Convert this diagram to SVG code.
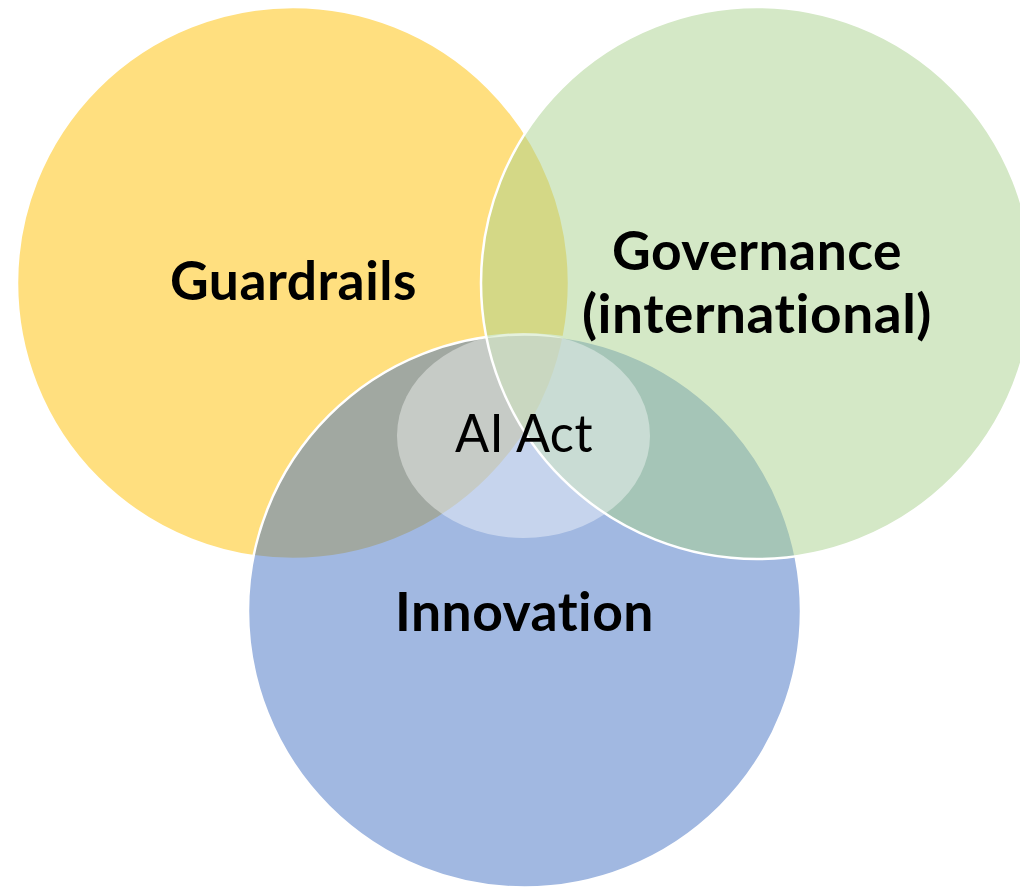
<svg xmlns="http://www.w3.org/2000/svg" width="1020" height="890" viewBox="0 0 1020 890">
<style>
.c{stroke:#ffffff;stroke-width:2.5;fill-opacity:0.5}
.lbl,.reg{font-family:Lato,"Open Sans","Liberation Sans",sans-serif;font-size:53px;fill:#000;text-anchor:middle;font-variant-ligatures:none;font-feature-settings:"liga" 0,"clig" 0,"calt" 0,"dlig" 0;letter-spacing:0.5px}
.lbl{font-weight:bold}
.reg{font-weight:normal}
</style>
<rect width="1020" height="890" fill="#ffffff"/>
<g id="guardrails">
<circle class="c" cx="293" cy="283" r="276" fill="#FFC000"/>
</g>
<g id="innovation">
<circle class="c" cx="524.5" cy="611" r="276.5" fill="#4472C4"/>
</g>
<g id="governance">
<circle class="c" cx="757" cy="283" r="276" fill="#A9D18E"/>
</g>
<g id="ai-act">
<ellipse cx="523.5" cy="435.5" rx="126.5" ry="102.5" fill="#ffffff" fill-opacity="0.4"/>
<text class="reg" x="524" y="452" textLength="138" lengthAdjust="spacingAndGlyphs">AI Act</text>
</g>
<g id="labels">
<text class="lbl" x="293.5" y="300" textLength="247" lengthAdjust="spacingAndGlyphs">Guardrails</text>
<text class="lbl" x="757" y="270" textLength="290" lengthAdjust="spacingAndGlyphs">Governance</text>
<text class="lbl" x="757" y="333" textLength="350" lengthAdjust="spacingAndGlyphs">(international)</text>
<text class="lbl" x="524.5" y="631" textLength="259" lengthAdjust="spacingAndGlyphs">Innovation</text>
</g>
</svg>
